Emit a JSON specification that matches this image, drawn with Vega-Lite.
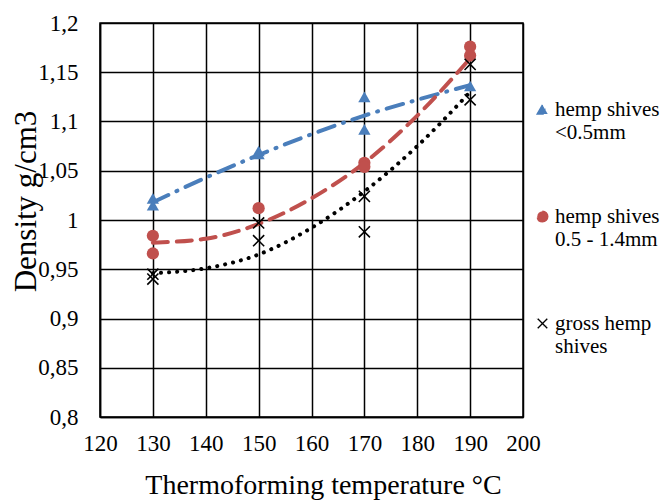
{
  "$schema": "https://vega.github.io/schema/vega-lite/v6.json",
  "width": 423,
  "height": 394,
  "autosize": "none",
  "padding": {"left": 100, "top": 23, "right": 143, "bottom": 83},
  "background": "white",
  "config": {
    "font": "Liberation Serif",
    "view": {"stroke": "black", "strokeWidth": 1.5},
    "axis": {
      "labelFont": "Liberation Serif",
      "titleFont": "Liberation Serif",
      "labelColor": "black",
      "titleColor": "black",
      "labelFontSize": 23,
      "titleFontWeight": "normal",
      "gridColor": "black",
      "gridOpacity": 1,
      "gridWidth": 1.5,
      "domainColor": "black",
      "domainWidth": 1.5,
      "ticks": false
    },
    "legend": {
      "labelFont": "Liberation Serif",
      "labelFontSize": 21,
      "labelColor": "black"
    }
  },
  "datasets": {
    "pts": [
      {"series": "hemp shives|<0.5mm", "temp": 130, "density": 1.022},
      {"series": "hemp shives|<0.5mm", "temp": 130, "density": 1.015},
      {"series": "hemp shives|<0.5mm", "temp": 150, "density": 1.070},
      {"series": "hemp shives|<0.5mm", "temp": 150, "density": 1.067},
      {"series": "hemp shives|<0.5mm", "temp": 170, "density": 1.125},
      {"series": "hemp shives|<0.5mm", "temp": 170, "density": 1.092},
      {"series": "hemp shives|<0.5mm", "temp": 190, "density": 1.136},
      {"series": " hemp shives|0.5 - 1.4mm", "temp": 130, "density": 0.984},
      {"series": " hemp shives|0.5 - 1.4mm", "temp": 130, "density": 0.966},
      {"series": " hemp shives|0.5 - 1.4mm", "temp": 150, "density": 1.012},
      {"series": " hemp shives|0.5 - 1.4mm", "temp": 170, "density": 1.058},
      {"series": " hemp shives|0.5 - 1.4mm", "temp": 170, "density": 1.054},
      {"series": " hemp shives|0.5 - 1.4mm", "temp": 190, "density": 1.176},
      {"series": " hemp shives|0.5 - 1.4mm", "temp": 190, "density": 1.167},
      {"series": "gross hemp|shives", "temp": 130, "density": 0.945},
      {"series": "gross hemp|shives", "temp": 130, "density": 0.940},
      {"series": "gross hemp|shives", "temp": 150, "density": 0.997},
      {"series": "gross hemp|shives", "temp": 150, "density": 0.979},
      {"series": "gross hemp|shives", "temp": 170, "density": 1.024},
      {"series": "gross hemp|shives", "temp": 170, "density": 0.988},
      {"series": "gross hemp|shives", "temp": 190, "density": 1.158},
      {"series": "gross hemp|shives", "temp": 190, "density": 1.122}
    ],
    "trend": [
      {"series": "hemp shives|<0.5mm", "temp": 130, "density": 1.018},
      {"series": "hemp shives|<0.5mm", "temp": 140, "density": 1.043},
      {"series": "hemp shives|<0.5mm", "temp": 150, "density": 1.066},
      {"series": "hemp shives|<0.5mm", "temp": 160, "density": 1.087},
      {"series": "hemp shives|<0.5mm", "temp": 170, "density": 1.106},
      {"series": "hemp shives|<0.5mm", "temp": 180, "density": 1.122},
      {"series": "hemp shives|<0.5mm", "temp": 190, "density": 1.137},
      {"series": " hemp shives|0.5 - 1.4mm", "temp": 130, "density": 0.977},
      {"series": " hemp shives|0.5 - 1.4mm", "temp": 140, "density": 0.981},
      {"series": " hemp shives|0.5 - 1.4mm", "temp": 150, "density": 0.996},
      {"series": " hemp shives|0.5 - 1.4mm", "temp": 160, "density": 1.022},
      {"series": " hemp shives|0.5 - 1.4mm", "temp": 170, "density": 1.058},
      {"series": " hemp shives|0.5 - 1.4mm", "temp": 180, "density": 1.106},
      {"series": " hemp shives|0.5 - 1.4mm", "temp": 190, "density": 1.164},
      {"series": "gross hemp|shives", "temp": 130, "density": 0.946},
      {"series": "gross hemp|shives", "temp": 140, "density": 0.951},
      {"series": "gross hemp|shives", "temp": 150, "density": 0.965},
      {"series": "gross hemp|shives", "temp": 160, "density": 0.992},
      {"series": "gross hemp|shives", "temp": 170, "density": 1.029},
      {"series": "gross hemp|shives", "temp": 180, "density": 1.075},
      {"series": "gross hemp|shives", "temp": 190, "density": 1.130}
    ]
  },
  "encoding": {
    "x": {
      "field": "temp", "type": "quantitative",
      "scale": {"domain": [120, 200], "nice": false, "zero": false},
      "axis": {"values": [120, 130, 140, 150, 160, 170, 180, 190, 200], "title": "Thermoforming temperature °C", "labelFlush": false, "labelPadding": 15, "titleFontSize": 28, "titleX": 223, "titleY": 68, "titleBaseline": "middle", "titleAnchor": "middle"}
    },
    "y": {
      "field": "density", "type": "quantitative",
      "scale": {"domain": [0.8, 1.2], "nice": false, "zero": false},
      "axis": {"values": [0.8, 0.85, 0.9, 0.95, 1, 1.05, 1.1, 1.15, 1.2], "title": "Density g/cm3", "labelPadding": 22, "titleFontSize": 31, "titleX": -74, "titleY": 178, "titleBaseline": "middle", "titleAngle": -90, "titleAnchor": "middle", "labelExpr": "replace(format(datum.value, '~g'), '.', ',')"}
    },
    "color": {
      "field": "series", "type": "nominal",
      "scale": {
        "domain": ["hemp shives|<0.5mm", " hemp shives|0.5 - 1.4mm", "gross hemp|shives"],
        "range": ["#4a7ebb", "#c0504d", "#000000"]
      }
    }
  },
  "layer": [
    {
      "data": {"name": "trend"},
      "mark": {"type": "line", "interpolate": "monotone", "strokeWidth": 4, "strokeCap": "round"},
      "encoding": {
        "strokeDash": {
          "field": "series", "type": "nominal",
          "scale": {
            "domain": ["hemp shives|<0.5mm", " hemp shives|0.5 - 1.4mm", "gross hemp|shives"],
            "range": [[17, 9, 1, 9], [15, 9], [0.1, 8]]
          },
          "legend": null
        }
      }
    },
    {
      "data": {"name": "pts"},
      "mark": {"type": "point", "filled": true, "opacity": 1},
      "encoding": {
        "shape": {
          "field": "series", "type": "nominal",
          "scale": {
            "domain": ["hemp shives|<0.5mm", " hemp shives|0.5 - 1.4mm", "gross hemp|shives"],
            "range": ["triangle-up", "circle", "M-1,-0.82L-0.82,-1L0,-0.18L0.82,-1L1,-0.82L0.18,0L1,0.82L0.82,1L0,0.18L-0.82,1L-1,0.82L-0.18,0Z"]
          }
        },
        "size": {"value": 150},
        "color": {
          "field": "series", "type": "nominal",
          "legend": {
            "title": null,
            "orient": "none",
            "legendX": 432,
            "legendY": 76,
            "labelExpr": "split(datum.label, '|')",
            "symbolSize": 110,
            "rowPadding": 62,
            "labelOffset": 2
          }
        }
      }
    }
  ]
}
